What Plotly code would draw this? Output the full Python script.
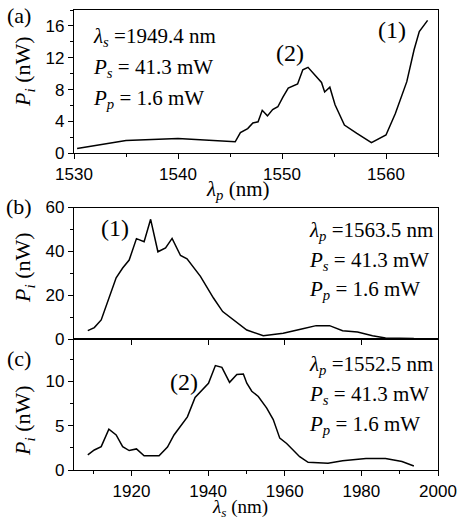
import plotly.graph_objects as go

# Panel (a): idler power vs pump wavelength
lam_p_a = [1530.3, 1535.0, 1540.0, 1545.5, 1546.0, 1546.7, 1547.2, 1547.7, 1548.1, 1548.6,
           1549.1, 1549.6, 1550.1, 1550.6, 1551.5, 1552.0, 1552.5, 1553.8, 1554.1, 1554.6,
           1555.1, 1556.0, 1557.2, 1557.6, 1558.6, 1560.0, 1560.9, 1562.0, 1562.7, 1563.2, 1564.0]
pi_a = [0.6, 1.6, 1.85, 1.45, 2.6, 3.1, 3.8, 3.95, 5.4, 4.7,
        5.5, 5.85, 7.1, 8.2, 8.7, 10.5, 10.8, 8.9, 7.7, 8.3,
        6.1, 3.55, 2.5, 2.2, 1.35, 2.3, 5.0, 9.0, 13.0, 15.3, 16.7]

# Panel (b): idler power vs signal wavelength, lambda_p = 1563.5 nm
lam_b = [1908.6, 1910.3, 1912.1, 1914.2, 1916.0, 1917.7, 1919.4, 1921.3, 1923.3, 1925.0,
         1926.9, 1928.9, 1930.6, 1932.8, 1934.5, 1938.0, 1941.4, 1943.8, 1946.6, 1950.1,
         1954.4, 1959.6, 1964.7, 1968.2, 1971.7, 1975.1, 1979.0, 1982.9, 1986.3, 1993.7]
pi_b = [3.8, 5.2, 8.7, 19.4, 27.9, 32.4, 36.0, 45.8, 44.4, 54.6,
        39.8, 41.6, 45.9, 38.1, 36.6, 28.6, 18.7, 12.5, 8.7, 4.1,
        1.5, 2.6, 4.7, 6.1, 6.1, 3.8, 3.2, 1.5, 0.5, 0.2]

# Panel (c): idler power vs signal wavelength, lambda_p = 1552.5 nm
lam_c = [1908.6, 1910.3, 1912.1, 1914.1, 1916.0, 1917.7, 1919.4, 1921.3, 1923.3, 1927.2,
         1929.4, 1931.1, 1934.6, 1936.6, 1940.1, 1941.9, 1943.6, 1945.6, 1947.5, 1949.2,
         1950.1, 1951.4, 1953.1, 1955.3, 1957.0, 1958.7, 1960.5, 1963.9, 1966.1, 1971.3,
         1975.1, 1981.2, 1986.3, 1990.6, 1993.7]
pi_c = [1.7, 2.26, 2.64, 4.6, 3.96, 2.64, 2.2, 2.38, 1.6, 1.6,
        2.6, 3.96, 6.0, 8.2, 9.8, 11.8, 11.6, 9.9, 10.8, 10.85,
        9.8, 8.9, 8.3, 7.0, 5.7, 3.6, 3.0, 1.5, 0.87, 0.75,
        1.05, 1.3, 1.3, 0.95, 0.45]

W, H = 458, 519
def px(x):
    return x / W
def py(y):
    return 1 - y / H

SERIF = "Liberation Serif, Times New Roman, serif"
SANS = "Liberation Sans, Arial, sans-serif"
line = dict(color="black", width=1.5)

fig = go.Figure()
fig.add_trace(go.Scatter(x=lam_p_a, y=pi_a, mode="lines", line=line, xaxis="x", yaxis="y"))
fig.add_trace(go.Scatter(x=lam_b, y=pi_b, mode="lines", line=line, xaxis="x2", yaxis="y2"))
fig.add_trace(go.Scatter(x=lam_c, y=pi_c, mode="lines", line=line, xaxis="x3", yaxis="y3"))

xdom = [px(74), px(438)]
common_ax = dict(showgrid=False, zeroline=False, showline=True, linecolor="black", linewidth=1.3,
                 mirror=True, ticks="outside", ticklen=5, tickwidth=1.2, tickcolor="black",
                 tickfont=dict(family=SANS, size=17, color="black"), automargin=False)

fig.update_layout(
    width=W, height=H, margin=dict(l=0, r=0, t=0, b=0),
    paper_bgcolor="white", plot_bgcolor="white", showlegend=False,
    xaxis=dict(common_ax, domain=xdom, anchor="y", range=[1530, 1565], dtick=10, tick0=1530,
               minor=dict(ticks="outside", dtick=5, ticklen=3, tickcolor="black")),
    yaxis=dict(common_ax, domain=[py(153.3), py(10)], anchor="x", range=[0, 18], dtick=4,
               minor=dict(ticks="outside", dtick=2, ticklen=3, tickcolor="black")),
    xaxis2=dict(common_ax, domain=xdom, anchor="y2", range=[1905, 2000], dtick=20, tick0=1900,
                showticklabels=False),
    yaxis2=dict(common_ax, domain=[py(339), py(207.5)], anchor="x2", range=[0, 60], dtick=20,
                minor=dict(ticks="outside", dtick=10, ticklen=3, tickcolor="black")),
    xaxis3=dict(common_ax, domain=xdom, anchor="y3", range=[1905, 2000], dtick=20, tick0=1900,
                minor=dict(ticks="outside", dtick=10, ticklen=3, tickcolor="black")),
    yaxis3=dict(common_ax, domain=[py(470), py(339)], anchor="x3", range=[0, 14.8], dtick=5,
                minor=dict(ticks="outside", dtick=2.5, ticklen=3, tickcolor="black")),
)

ann = []
def text(x, y, s, size=21, xanchor="left", angle=0):
    ann.append(dict(x=px(x), y=py(y), xref="paper", yref="paper", text=s, showarrow=False,
                    xanchor=xanchor, yanchor="middle", textangle=angle,
                    font=dict(family=SERIF, size=size, color="black")))

# panel letters
text(19, 15, "(a)", size=22, xanchor="center")
text(19, 206, "(b)", size=22, xanchor="center")
text(19, 358, "(c)", size=22, xanchor="center")

# y titles
ytitle = "<i>P</i><sub><i>i</i></sub> (nW)"
text(24, 72, ytitle, size=22, xanchor="center", angle=-90)
text(24, 268, ytitle, size=22, xanchor="center", angle=-90)
text(24, 421, ytitle, size=22, xanchor="center", angle=-90)

# x titles
text(238, 190, "<i>λ</i><sub><i>p</i></sub> (nm)", size=21, xanchor="center")
text(240, 508, "<i>λ</i><sub><i>s</i></sub> (nm)", size=19, xanchor="center")

# parameter blocks
def block(x, ys, sub, lam):
    text(x, ys[0], f"<i>λ</i><sub><i>{sub}</i></sub> ={lam} nm")
    text(x, ys[1], "<i>P</i><sub><i>s</i></sub> = 41.3 mW")
    text(x, ys[2], "<i>P</i><sub><i>p</i></sub> = 1.6 mW")

block(91, [37, 68, 99], "s", "1949.4")
block(307, [231, 261, 290], "p", "1563.5")
block(307, [365, 395, 425], "p", "1552.5")

# peak labels
text(290, 53, "(2)", size=24, xanchor="center")
text(392, 30, "(1)", size=24, xanchor="center")
text(115, 228, "(1)", size=24, xanchor="center")
text(184, 382, "(2)", size=24, xanchor="center")

fig.update_layout(annotations=ann)
fig.write_html("out.html")
